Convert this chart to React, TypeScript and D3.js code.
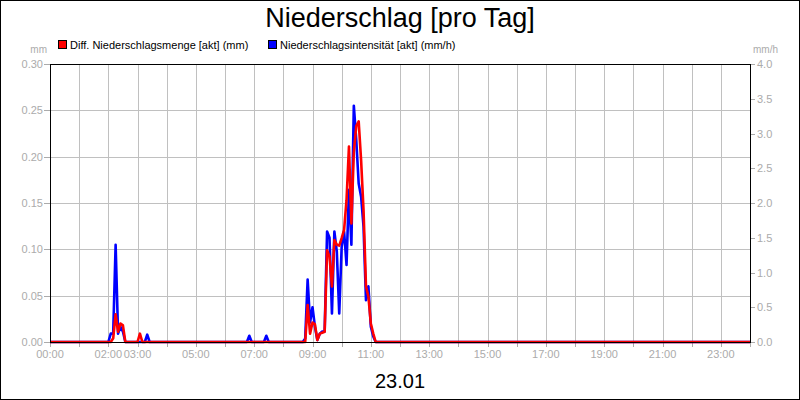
import * as d3 from "d3";

// Diff. Niederschlagsmenge [akt] (mm), 5-minute values
const amountTimes = [
  "00:00", "02:05", "02:10", "02:15", "02:20", "02:25", "02:30", "02:35",
  "03:00", "03:05", "03:10",
  "08:45", "08:50", "08:55", "09:00", "09:05", "09:10", "09:15", "09:20", "09:25",
  "09:30", "09:35", "09:40", "09:45", "09:50", "09:55", "10:00", "10:05", "10:10",
  "10:15", "10:20", "10:25", "10:30", "10:35", "10:40", "10:45", "10:50", "10:55",
  "11:00", "11:05", "11:10", "24:00",
];
const amountValues = [
  0, 0, 0.004, 0.03, 0.011, 0.02, 0.018, 0,
  0, 0.009, 0,
  0, 0.04, 0.009, 0.021, 0.019, 0.002, 0.009, 0.01, 0.011,
  0.099, 0.092, 0.06, 0.11, 0.105, 0.104, 0.112, 0.121, 0.153,
  0.211, 0.128, 0.205, 0.233, 0.238, 0.196, 0.142, 0.06, 0.049,
  0.02, 0.009, 0, 0,
];

// Niederschlagsintensität [akt] (mm/h)
const intensityTimes = [
  "00:00", "02:00", "02:05", "02:10", "02:15", "02:20", "02:25", "02:30", "02:35",
  "03:15", "03:20", "03:25",
  "06:45", "06:50", "06:55", "07:20", "07:25", "07:30",
  "08:40", "08:45", "08:50", "08:55", "09:00", "09:05", "09:10", "09:15", "09:20",
  "09:25", "09:30", "09:35", "09:40", "09:45", "09:50", "09:55", "10:00", "10:05",
  "10:10", "10:15", "10:20", "10:25", "10:30", "10:35", "10:40", "10:45", "10:50",
  "10:55", "11:00", "11:05", "11:10", "24:00",
];
const intensityValues = [
  0, 0, 0.12, 0.12, 1.4, 0.12, 0.22, 0.15, 0,
  0, 0.105, 0,
  0, 0.09, 0, 0, 0.09, 0,
  0, 0.05, 0.9, 0.28, 0.5, 0.22, 0.03, 0.12, 0.15,
  0.15, 1.59, 1.5, 0.41, 1.59, 1.3, 0.41, 1.37, 1.59,
  1.11, 2.19, 1.4, 3.4, 2.91, 2.28, 2.09, 1.66, 0.6,
  0.8, 0.22, 0.08, 0, 0,
];

const hourTickLabels = [
  "00:00", "02:00", "03:00", "05:00", "07:00", "09:00", "11:00",
  "13:00", "15:00", "17:00", "19:00", "21:00", "23:00",
];
const leftTicks = [0, 0.05, 0.1, 0.15, 0.2, 0.25, 0.3];
const rightTicks = [0, 0.5, 1, 1.5, 2, 2.5, 3, 3.5, 4];

const title = "Niederschlag [pro Tag]";
const dateLabel = "23.01";
const amountLabel = "Diff. Niederschlagsmenge [akt] (mm)";
const intensityLabel = "Niederschlagsintensität [akt] (mm/h)";

const W = 800;
const H = 400;
const margin = { left: 50, right: 50, top: 64, bottom: 58 };
const FONT = "'Liberation Sans', Arial, sans-serif";
const GREY = "#ababab";

const toHours = (t: string) => {
  const [h, m] = t.split(":").map(Number);
  return h + m / 60;
};

export default function App() {
  const x = d3.scaleLinear().domain([0, 24]).range([margin.left, W - margin.right]);
  const yL = d3.scaleLinear().domain([0, 0.3]).range([H - margin.bottom, margin.top]);
  const yR = d3.scaleLinear().domain([0, 4]).range([H - margin.bottom, margin.top]);

  const amountLine = d3
    .line<number>()
    .x((_, i) => x(toHours(amountTimes[i])))
    .y((d) => yL(d));
  const intensityLine = d3
    .line<number>()
    .x((_, i) => x(toHours(intensityTimes[i])))
    .y((d) => yR(d));

  const hours = d3.range(0, 25);
  const [x0, x1] = x.range();
  const [y0, y1] = yL.range();

  return (
    <div>
      <style>{"body{margin:0}"}</style>
      <svg width={W} height={H} style={{ display: "block", fontFamily: FONT }}>
        <rect x={0.5} y={0.5} width={W - 1} height={H - 1} fill="#fff" stroke="#000" />

        <text x={W / 2} y={27} textAnchor="middle" fontSize={27} fill="#000">
          {title}
        </text>

        {/* legend */}
        <rect x={58.5} y={40.5} width={8} height={8} fill="#f00" stroke="#000" />
        <text x={70} y={48.5} fontSize={11} fill="#000">{amountLabel}</text>
        <rect x={268.5} y={40.5} width={8} height={8} fill="#00f" stroke="#000" />
        <text x={280} y={48.5} fontSize={11} fill="#000">{intensityLabel}</text>

        {/* grid */}
        <g stroke="#c0c0c0" strokeWidth={1}>
          {hours.slice(1, -1).map((h) => (
            <line key={h} x1={Math.round(x(h)) + 0.5} x2={Math.round(x(h)) + 0.5} y1={y1} y2={y0} />
          ))}
          {leftTicks.slice(1, -1).map((v) => (
            <line key={v} x1={x0} x2={x1} y1={Math.round(yL(v)) + 0.5} y2={Math.round(yL(v)) + 0.5} />
          ))}
        </g>

        {/* x axis ticks */}
        <g stroke={GREY}>
          {hours.map((h) => (
            <line key={h} x1={Math.round(x(h)) + 0.5} x2={Math.round(x(h)) + 0.5} y1={y0} y2={y0 + 5} />
          ))}
        </g>
        <g fontSize={11} fill={GREY} textAnchor="middle">
          {hourTickLabels.map((t) => (
            <text key={t} x={x(toHours(t))} y={y0 + 16}>{t}</text>
          ))}
        </g>

        {/* left axis */}
        <text x={47} y={53} fontSize={10} fill={GREY} textAnchor="end">mm</text>
        <g fontSize={11} fill={GREY} textAnchor="end">
          {leftTicks.map((v) => (
            <g key={v}>
              <line x1={x0 - 6} x2={x0} y1={Math.round(yL(v)) + 0.5} y2={Math.round(yL(v)) + 0.5} stroke={GREY} />
              <text x={x0 - 7} y={yL(v) + 4}>{d3.format(".2f")(v)}</text>
            </g>
          ))}
        </g>

        {/* right axis */}
        <text x={753} y={53} fontSize={10} fill={GREY}>mm/h</text>
        <g fontSize={11} fill={GREY}>
          {rightTicks.map((v) => (
            <g key={v}>
              <line x1={x1} x2={x1 + 5} y1={Math.round(yR(v)) + 0.5} y2={Math.round(yR(v)) + 0.5} stroke={GREY} />
              <text x={x1 + 7} y={yR(v) + 4}>{d3.format(".1f")(v)}</text>
            </g>
          ))}
        </g>

        {/* series */}
        <path
          d={intensityLine(intensityValues) ?? ""}
          fill="none"
          stroke="#00f"
          strokeWidth={2.6}
          strokeLinejoin="round"
        />
        <path
          d={amountLine(amountValues) ?? ""}
          fill="none"
          stroke="#f00"
          strokeWidth={2.6}
          strokeLinejoin="round"
        />

        <rect x={x0 + 0.5} y={y1 + 0.5} width={x1 - x0} height={y0 - y1} fill="none" stroke="#000" />

        <text x={W / 2} y={388} textAnchor="middle" fontSize={20} fill="#000">
          {dateLabel}
        </text>
      </svg>
    </div>
  );
}
